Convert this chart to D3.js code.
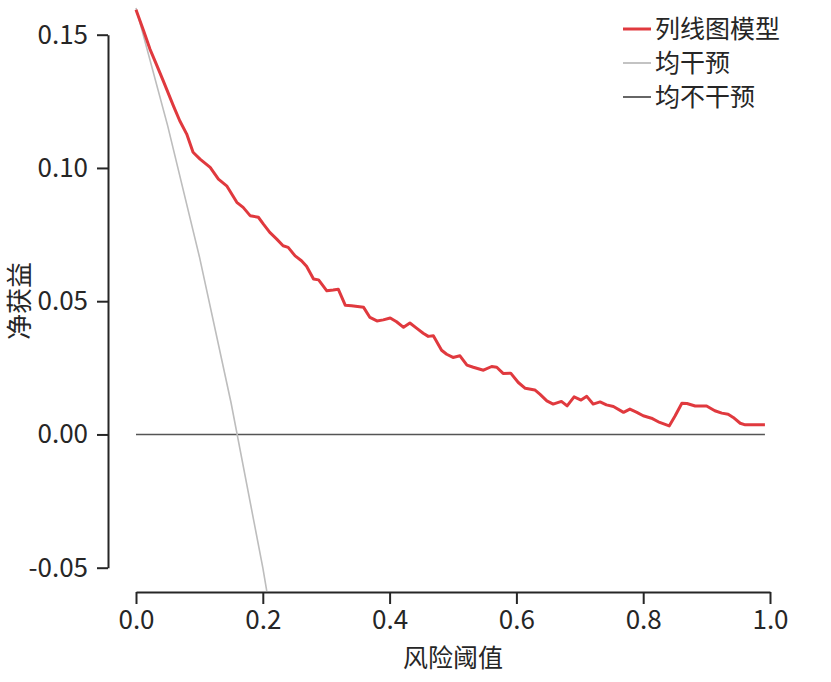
<!DOCTYPE html>
<html>
<head>
<meta charset="utf-8">
<script src="https://cdn.jsdelivr.net/npm/d3@7/dist/d3.min.js"></script>
<style>
  html, body { margin: 0; padding: 0; background: #fff; }
  svg { display: block; }
  text { font-family: "Noto Sans CJK SC", "Noto Sans", sans-serif; fill: #262626; }
</style>
</head>
<body>
<svg id="chart" width="831" height="682"></svg>
<script>
// ---- data ----
const modelThresholds = [0.000,0.012,0.022,0.033,0.043,0.059,0.069,0.080,0.090,0.101,0.117,0.130,0.143,0.159,0.169,0.180,0.193,0.201,0.211,0.222,0.232,0.240,0.251,0.261,0.269,0.280,0.288,0.301,0.311,0.319,0.330,0.340,0.359,0.369,0.380,0.390,0.401,0.411,0.422,0.432,0.443,0.453,0.461,0.469,0.482,0.490,0.500,0.511,0.522,0.532,0.548,0.561,0.569,0.579,0.591,0.603,0.614,0.629,0.637,0.648,0.658,0.671,0.680,0.691,0.702,0.711,0.721,0.732,0.742,0.753,0.769,0.779,0.790,0.800,0.813,0.826,0.841,0.850,0.861,0.869,0.882,0.900,0.913,0.924,0.934,0.942,0.953,0.961,0.992];
const modelNetBenefit = [0.1594,0.1515,0.1446,0.1384,0.1327,0.1233,0.1177,0.1127,0.1059,0.1033,0.1002,0.0958,0.0933,0.0871,0.0852,0.0821,0.0815,0.0789,0.0758,0.0733,0.0708,0.0702,0.0670,0.0652,0.0631,0.0583,0.0580,0.0539,0.0542,0.0545,0.0485,0.0483,0.0477,0.0439,0.0426,0.0430,0.0437,0.0423,0.0402,0.0418,0.0398,0.0380,0.0368,0.0370,0.0316,0.0301,0.0289,0.0295,0.0260,0.0252,0.0241,0.0255,0.0252,0.0229,0.0230,0.0195,0.0173,0.0167,0.0151,0.0126,0.0114,0.0124,0.0107,0.0141,0.0129,0.0143,0.0114,0.0122,0.0111,0.0105,0.0083,0.0095,0.0083,0.0070,0.0061,0.0045,0.0032,0.0068,0.0117,0.0116,0.0107,0.0107,0.0089,0.0080,0.0076,0.0064,0.0042,0.0036,0.0036];

const allThresholds = [0.00,0.05,0.10,0.15,0.20,0.25];
const allNetBenefit = [0.160,0.1158,0.0667,0.0118,-0.0500,-0.1200];

const noneThresholds = [0.00,0.992];
const noneNetBenefit = [0.0,0.0];

const xTicks = [0.0,0.2,0.4,0.6,0.8,1.0];
const yTicks = [-0.05,0.00,0.05,0.10,0.15];

const legendLabels = ["列线图模型","均干预","均不干预"];
const seriesColors = ["#e0393e","#bdbdbd","#555555"];
const xLabel = "风险阈值";
const yLabel = "净获益";

// ---- drawing ----
const svg = d3.select("#chart");
const x = d3.scaleLinear().domain([0,1]).range([136,770]);
const y = d3.scaleLinear().domain([-0.05,0.15]).range([567.7,34.7]);

svg.append("defs").append("clipPath").attr("id","plotclip")
  .append("rect").attr("x",100).attr("y",0).attr("width",700).attr("height",591);

const line = d3.line().x(d => x(d[0])).y(d => y(d[1]));
const plot = svg.append("g").attr("clip-path","url(#plotclip)");

plot.append("path")
  .datum(noneThresholds.map((t,i)=>[t,noneNetBenefit[i]]))
  .attr("d",line).attr("fill","none")
  .attr("stroke",seriesColors[2]).attr("stroke-width",1.6);

plot.append("path")
  .datum(allThresholds.map((t,i)=>[t,allNetBenefit[i]]))
  .attr("d",line).attr("fill","none")
  .attr("stroke",seriesColors[1]).attr("stroke-width",1.6);

plot.append("path")
  .datum(modelThresholds.map((t,i)=>[t,modelNetBenefit[i]]))
  .attr("d",line).attr("fill","none")
  .attr("stroke",seriesColors[0]).attr("stroke-width",3)
  .attr("stroke-linejoin","round");

// axes
const fontSize = 26;
const xAxis = svg.append("g").attr("transform","translate(0,592)")
  .call(d3.axisBottom(x).tickValues(xTicks).tickFormat(d=>d.toFixed(1)).tickSize(12).tickSizeOuter(0).tickPadding(7));
const yAxis = svg.append("g").attr("transform","translate(108,0)")
  .call(d3.axisLeft(y).tickValues(yTicks).tickFormat(d=>d.toFixed(2)).tickSize(11).tickSizeOuter(0).tickPadding(9));

[xAxis,yAxis].forEach(a=>{
  a.select(".domain").attr("stroke","#262626").attr("stroke-width",2);
  a.selectAll(".tick line").attr("stroke","#262626").attr("stroke-width",2);
  a.selectAll(".tick text").attr("font-size",fontSize).attr("font-family","'Noto Sans CJK SC', sans-serif").attr("fill","#262626");
});

svg.append("text").attr("x",453).attr("y",667).attr("text-anchor","middle")
  .attr("font-size",25).text(xLabel);
svg.append("text").attr("transform","translate(29,301) rotate(-90)").attr("text-anchor","middle")
  .attr("font-size",26).text(yLabel);

// legend
const legend = svg.append("g");
const rowY = [29,63,97];
legendLabels.forEach((lab,i)=>{
  legend.append("line").attr("x1",623).attr("x2",651).attr("y1",rowY[i]).attr("y2",rowY[i])
    .attr("stroke",seriesColors[i]).attr("stroke-width", i===0?3:1.8);
  legend.append("text").attr("x",655).attr("y",rowY[i]).attr("dy","0.35em")
    .attr("font-size",25).text(lab);
});
</script>
</body>
</html>
